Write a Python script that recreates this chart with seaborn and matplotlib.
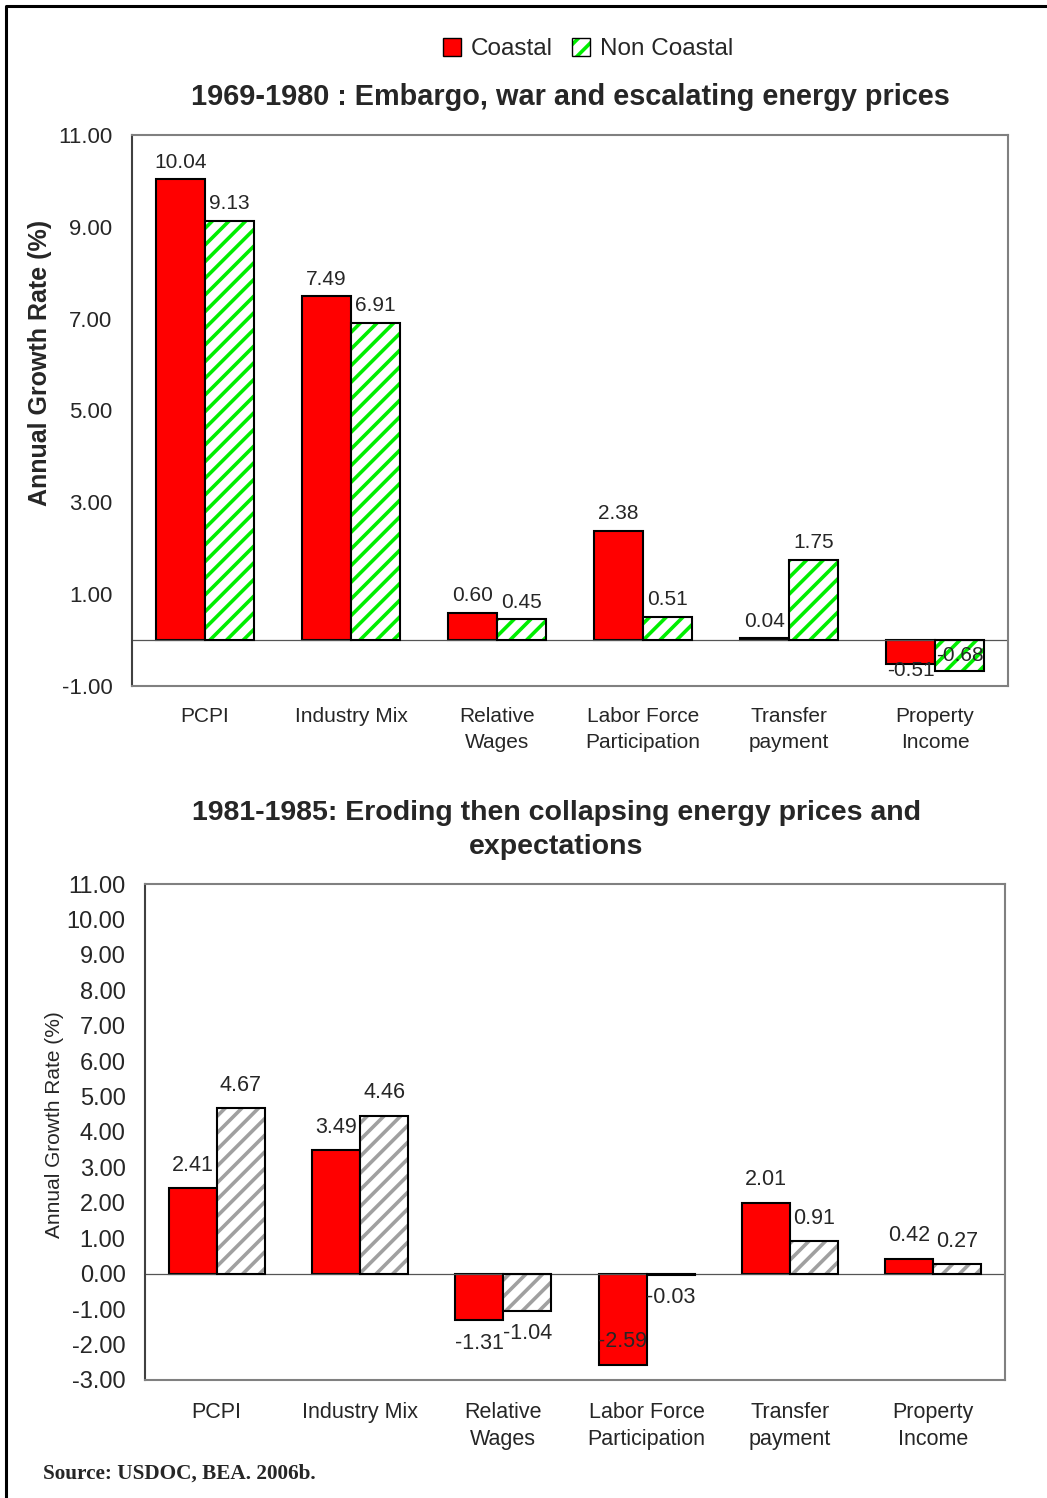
import matplotlib
matplotlib.use('Agg')
import matplotlib.pyplot as plt
import seaborn as sns
import pandas as pd
from matplotlib.patches import Patch, Rectangle
from matplotlib.lines import Line2D

# Data
categories = ['PCPI', 'Industry Mix', 'Relative\nWages', 'Labor Force\nParticipation',
              'Transfer\npayment', 'Property\nIncome']
series_names = ['Coastal', 'Non Coastal']

coastal_6980 = [10.04, 7.49, 0.60, 2.38, 0.04, -0.51]
noncoastal_6980 = [9.13, 6.91, 0.45, 0.51, 1.75, -0.68]

coastal_8185 = [2.41, 3.49, -1.31, -2.59, 2.01, 0.42]
noncoastal_8185 = [4.67, 4.46, -1.04, -0.03, 0.91, 0.27]

ticks_top = [-1, 1, 3, 5, 7, 9, 11]
ticks_bottom = list(range(-3, 12))

title_top = '1969-1980 : Embargo, war and escalating energy prices'
title_bottom = '1981-1985: Eroding then collapsing energy prices and\nexpectations'
ylabel = 'Annual Growth Rate (%)'
source = 'Source: USDOC, BEA. 2006b.'

W, H = 1047, 1498
RED = '#FF0000'
GREEN = '#00EE00'
GRAY_HATCH = '#A0A0A0'

sns.set_style('white')
plt.rcParams['font.family'] = ['Liberation Sans', 'DejaVu Sans']
plt.rcParams['hatch.linewidth'] = 2.6

fig = plt.figure(figsize=(W / 100, H / 100), dpi=100)


def px_axes(l, t, r, b):
    return fig.add_axes([l / W, 1 - b / H, (r - l) / W, (b - t) / H])


def make_df(a, b):
    return pd.DataFrame({
        'Category': categories * 2,
        'Region': [series_names[0]] * len(a) + [series_names[1]] * len(b),
        'Value': list(a) + list(b),
    })


def draw_panel(ax, a, b, hatch_color, ticks, tick_fs, lab_fs, label_off, nudges, xpad, xls):
    df = make_df(a, b)
    sns.barplot(data=df, x='Category', y='Value', hue='Region', order=categories,
                hue_order=series_names, palette=[RED, 'white'], saturation=1, width=0.67,
                edgecolor='black', linewidth=1.5, legend=False, ax=ax, errorbar=None)
    # hatched second series, with a separate black outline on top
    for p in ax.containers[1]:
        p.set_hatch('//')
        p.set_edgecolor(hatch_color)
        p.set_linewidth(0)
        ax.add_patch(Rectangle((p.get_x(), p.get_y()), p.get_width(), p.get_height(),
                               fill=False, edgecolor='black', linewidth=1.5, zorder=3))
    ax.axhline(0, color='#555555', linewidth=0.9, zorder=1)
    ax.set_ylim(ticks[0], ticks[-1])
    ax.set_xlim(-0.5, len(categories) - 0.5)
    ax.set_yticks(ticks)
    ax.set_yticklabels([f'{t:.2f}' for t in ticks], fontsize=tick_fs)
    ax.tick_params(axis='y', length=0, pad=14)
    ax.tick_params(axis='x', length=0, pad=xpad)
    for lab in ax.get_xticklabels():
        lab.set_fontsize(lab_fs)
        lab.set_linespacing(xls)
    ax.set_xlabel('')
    ax.set_ylabel('')
    for side in ['top', 'right', 'bottom']:
        ax.spines[side].set_color('#808080')
        ax.spines[side].set_linewidth(1.5)
    ax.spines['left'].set_color('#404040')
    ax.spines['left'].set_linewidth(1.5)
    # value labels
    for si, cont in enumerate(ax.containers[:2]):
        vals = a if si == 0 else b
        for ci, (p, v) in enumerate(zip(cont, vals)):
            off = nudges.get((si, ci), label_off if v >= 0 else -label_off)
            ax.annotate(f'{v:.2f}', (p.get_x() + p.get_width() / 2, v),
                        xytext=(0, off * 0.72), textcoords='offset points',
                        ha='center', va='center', fontsize=lab_fs, zorder=5)


ax1 = px_axes(132, 135, 1008, 686)
draw_panel(ax1, coastal_6980, noncoastal_6980, GREEN, ticks_top, 16, 15, 17,
           {(0, 5): -7, (1, 5): 16}, 15, 1.5)
ax2 = px_axes(145, 884, 1005, 1380)
draw_panel(ax2, coastal_8185, noncoastal_8185, GRAY_HATCH, ticks_bottom, 17, 15.5, 23,
           {(0, 3): 24}, 16, 1.35)

# titles and axis labels
fig.text(570 / W, 1 - 97 / H, title_top, ha='center', va='center',
         fontsize=20.8, fontweight='bold')
fig.text(556 / W, 1 - 830 / H, title_bottom, ha='center', va='center',
         fontsize=20.5, fontweight='bold', linespacing=1.45)
fig.text(40 / W, 1 - 363 / H, ylabel, rotation=90, ha='center', va='center',
         fontsize=18, fontweight='bold')
fig.text(55 / W, 1 - 1125 / H, ylabel, rotation=90, ha='center', va='center',
         fontsize=15)
fig.text(43 / W, 1 - 1474 / H, source, ha='left', va='center', fontsize=15.3,
         fontweight='bold', family=['Liberation Serif', 'DejaVu Serif'])

# legend
h_coastal = Patch(facecolor=RED, edgecolor='black', linewidth=1)
h_non = (Patch(facecolor='white', edgecolor=GREEN, hatch='//', linewidth=0),
         Patch(fill=False, edgecolor='black', linewidth=1))
fig.legend([h_coastal, h_non], series_names, loc='center', ncol=2,
           bbox_to_anchor=(588 / W, 1 - 49 / H), frameon=False, fontsize=17.5,
           handlelength=0.75, handleheight=0.75, handletextpad=0.4, columnspacing=0.8)

# outer frame (top and left edges visible)
fig.add_artist(Line2D([6 / W, 6 / W, 1.0], [0.0, 1 - 6 / H, 1 - 6 / H],
                      transform=fig.transFigure, color='black', linewidth=2.2))

fig.savefig('out.png', dpi=100)
